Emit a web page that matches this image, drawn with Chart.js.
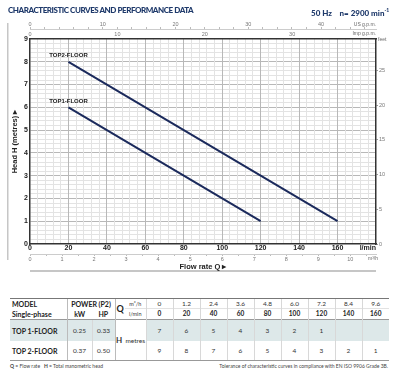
<!DOCTYPE html>
<html>
<head>
<meta charset="utf-8">
<script src="https://cdn.jsdelivr.net/npm/chart.js@4.4.0/dist/chart.umd.min.js"></script>
<style>
  html, body { margin: 0; padding: 0; background: #fff; }
  #wrap { position: relative; width: 400px; height: 376px; overflow: hidden; font-family: Lato, 'Open Sans', sans-serif; }
  #chart { position: absolute; left: 0; top: 0; }
  .head { position: absolute; top: 5px; font-weight: 900; font-size: 8px; color: #1f3a6b; white-space: nowrap; line-height: 10px; }
  #perf { position: absolute; left: 10px; top: 298px; border-collapse: collapse; table-layout: fixed; width: 379px; color: #333; }
  #perf td { padding: 0; text-align: center; font-size: 6.5px; line-height: 8px; border-left: 1px solid #d8d8d8; }
  #perf td.b { font-weight: bold; color: #222; }
  #perf td.l { text-align: left; padding-left: 2px; border-left: none; font-weight: bold; font-size: 7px; color: #222; }
  #perf tr.r1 td { height: 9px; border-top: 1px solid #777; }
  #perf tr.r2 td { height: 10px; }
  #perf tr.r2 td.v, #perf tr.r2 td.u { border-top: 1px solid #e2e2e2; }
  #perf tr.r3 td { height: 21px; border-top: 1px solid #999; }
  #perf tr.r3 td.s { background: #dde8e9; }
  #perf tr.r4 td { height: 19px; border-bottom: 1px solid #999; }
  #perf td.k { border-left: 1px solid #bbb; }
  .foot { position: absolute; top: 363px; font-size: 5px; color: #444; white-space: nowrap; }
</style>
</head>
<body>
<div id="wrap">
  <canvas id="chart" width="400" height="285"></canvas>
  <div class="head" style="left:8px;letter-spacing:-0.45px">CHARACTERISTIC CURVES AND PERFORMANCE DATA</div>
  <div class="head" style="left:311px">50 Hz&nbsp;&nbsp;&nbsp; n= 2900 min<sup style="font-size:5px">-1</sup></div>
  <table id="perf"></table>
  <div class="foot" style="left:10px"><b>Q</b> = Flow rate&nbsp;&nbsp; <b>H</b> = Total manometric head</div>
  <div class="foot" style="right:12px">Tolerance of characteristic curves in compliance with EN ISO 9906 Grade 3B.</div>
</div>
<script>
// performance table (also the points of the curves)
const flowLmin = [0, 20, 40, 60, 80, 100, 120, 140, 160];
const flowM3h = ['0', '1.2', '2.4', '3.6', '4.8', '6.0', '7.2', '8.4', '9.6'];
const headTop1 = [7, 6, 5, 4, 3, 2, 1, null, null];
const headTop2 = [9, 8, 7, 6, 5, 4, 3, 2, 1];
const models = ['TOP 1-FLOOR', 'TOP 2-FLOOR'];
const powerKw = ['0.25', '0.37'];
const powerHp = ['0.33', '0.50'];
const curveNames = ['TOP1-FLOOR', 'TOP2-FLOOR'];
const curveStart = 20; // the drawn curves begin at 20 l/min

// axis ranges and unit conversions
const X_MAX = 180;
const Y_MAX = 9;
const LMIN_PER_M3H = 1000 / 60;
const LMIN_PER_USGPM = 3.785411784;
const LMIN_PER_IMPGPM = 4.54609;
const M_PER_FT = 0.3048;

const LINE = '#1b2a5c';
const NUM_FONT = "'Liberation Sans', Arial, sans-serif";

// table
var rows = '<colgroup><col style="width:57px"><col style="width:25px"><col style="width:23px"><col style="width:10px"><col style="width:21px">' +
  flowLmin.map(() => '<col style="width:27px">').join('') + '</colgroup>';
rows += '<tr class="r1"><td class="l">MODEL</td><td class="b k" colspan="2" style="font-size:7px">POWER (P2)</td>' +
  '<td class="b k" rowspan="2" style="font-size:9px">Q</td><td class="u" style="border-left:none;font-size:5.5px">m³/h</td>' +
  flowM3h.map(v => '<td class="v">' + v + '</td>').join('') + '</tr>';
rows += '<tr class="r2"><td class="l">Single-phase</td><td class="b k" style="font-size:7px">kW</td><td class="b" style="font-size:7px;border-left:none">HP</td>' +
  '<td class="u" style="border-left:none;font-size:5.5px">l/min</td>' +
  flowLmin.map(v => '<td class="v b">' + v + '</td>').join('') + '</tr>';
[headTop1, headTop2].forEach(function (heads, i) {
  rows += '<tr class="r' + (i + 3) + '"><td class="l s">' + models[i] + '</td><td class="s k">' + powerKw[i] + '</td><td class="s">' + powerHp[i] + '</td>';
  if (i === 0) rows += '<td class="k" colspan="2" rowspan="2" style="border-bottom:1px solid #999"><b style="font-size:8px">H</b>&nbsp; metres</td>';
  rows += heads.map(h => '<td class="s v">' + (h == null ? '' : h) + '</td>').join('') + '</tr>';
});
document.getElementById('perf').innerHTML = rows;

// chart
const isMult = (v, m) => Math.abs(v / m - Math.round(v / m)) < 1e-6;

function gridColor(v, major, lo, hi) {
  if (Math.abs(v - lo) < 1e-6 || Math.abs(v - hi) < 1e-6) return 'rgba(0,0,0,0)';
  return isMult(v, major) ? '#b8b8b8' : '#e3e3e3';
}

function points(heads) {
  return flowLmin.map((q, i) => ({ x: q, y: heads[i] }))
    .filter(p => p.x >= curveStart && p.y != null);
}

const small = { size: 5.5, family: NUM_FONT };

const extras = {
  id: 'extras',
  beforeDraw(chart) {
    const { ctx, chartArea: a } = chart;
    ctx.save();
    ctx.fillStyle = '#c6c6c6';
    ctx.fillRect(7, 23, 1.5, 237);
    ctx.fillRect(a.left, 270, a.right - a.left, 2);
    ctx.restore();
  },
  afterDraw(chart) {
    const { ctx, chartArea: a } = chart;
    ctx.save();
    ctx.fillStyle = '#666';
    ctx.textBaseline = 'middle';
    ctx.font = '5px ' + NUM_FONT;
    ctx.textAlign = 'right';
    ctx.fillText('US g.p.m.', a.right, 25);
    ctx.fillText('Imp g.p.m.', a.right, 34);
    ctx.fillText('m³/h', a.right + 2, 259);
    ctx.textAlign = 'left';
    ctx.fillText('feet', a.right + 2, a.top + 1);
    ctx.fillStyle = '#222';
    ctx.textAlign = 'right';
    ctx.font = 'bold 7px ' + NUM_FONT;
    ctx.fillText('l/min', a.right, 248);

    // curve names at the start of each line
    ctx.font = "bold 6px 'Liberation Sans Narrow', 'Arial Narrow', " + NUM_FONT;
    ctx.textAlign = 'center';
    ctx.textBaseline = 'bottom';
    chart.data.datasets.forEach(function (ds) {
      const p = ds.data[0];
      const px = chart.scales.x.getPixelForValue(p.x);
      const py = chart.scales.y.getPixelForValue(p.y);
      ctx.fillText(ds.label, px, py - 3);
    });
    ctx.restore();
  }
};

new Chart(document.getElementById('chart'), {
  type: 'line',
  data: {
    datasets: [
      { label: curveNames[0], data: points(headTop1), borderColor: LINE, borderWidth: 2, pointRadius: 0, xAxisID: 'x', yAxisID: 'y' },
      { label: curveNames[1], data: points(headTop2), borderColor: LINE, borderWidth: 2, pointRadius: 0, xAxisID: 'x', yAxisID: 'y' }
    ]
  },
  options: {
    responsive: false,
    animation: false,
    layout: { padding: { top: 18, bottom: 13.5, left: 0, right: 0 } },
    plugins: { legend: { display: false }, tooltip: { enabled: false } },
    scales: {
      y: {
        type: 'linear', position: 'left', min: 0, max: Y_MAX,
        afterFit: s => { s.width = 30; },
        ticks: {
          stepSize: 0.2, autoSkip: false, padding: 2, color: '#222',
          font: { size: 7, weight: 'bold', family: NUM_FONT },
          callback: v => isMult(v, 1) ? v : ''
        },
        grid: { drawTicks: false, color: c => gridColor(c.tick.value, 1, 0, Y_MAX) },
        border: { color: '#333', width: 1.5 },
        title: {
          display: true, text: 'Head H (metres) ▸', color: '#222',
          font: { size: 7.5, weight: 'bold', family: NUM_FONT },
          padding: { top: 10.5, bottom: 0 }
        }
      },
      y2: {
        type: 'linear', position: 'right', min: 0, max: Y_MAX / M_PER_FT,
        afterFit: s => { s.width = 24; },
        ticks: { stepSize: 5, includeBounds: false, padding: 1, color: '#777', font: small },
        grid: { drawOnChartArea: false, tickLength: 2, color: '#999' },
        border: { color: '#333', width: 1.5 }
      },
      x: {
        type: 'linear', position: 'bottom', min: 0, max: X_MAX,
        afterFit: s => { s.height = 10; },
        ticks: {
          stepSize: 4, autoSkip: false, maxRotation: 0, padding: 0, color: '#222',
          font: { size: 7, weight: 'bold', family: NUM_FONT },
          callback: v => (isMult(v, 20) && v < X_MAX) ? v : ''
        },
        grid: { drawTicks: false, color: c => gridColor(c.tick.value, 20, 0, X_MAX) },
        border: { color: '#333', width: 1.5 }
      },
      x2: {
        type: 'linear', position: 'bottom', min: 0, max: X_MAX / LMIN_PER_M3H,
        afterFit: s => { s.height = 17.5; },
        ticks: {
          stepSize: 0.5, includeBounds: false, autoSkip: false, maxRotation: 0, padding: 0.5, color: '#777', font: small,
          callback: v => isMult(v, 1) && v < 10.5 ? v : ''
        },
        grid: { drawOnChartArea: false, tickLength: 2, color: '#bbb' },
        border: { color: '#ccc', width: 1 },
        title: {
          display: true, text: 'Flow rate Q ▸', color: '#222',
          font: { size: 7.5, weight: 'bold', family: NUM_FONT },
          padding: { top: 0, bottom: 0 }
        }
      },
      xImp: {
        type: 'linear', position: 'top', min: 0, max: X_MAX / LMIN_PER_IMPGPM,
        afterFit: s => { s.height = 10; },
        ticks: {
          stepSize: 2, includeBounds: false, autoSkip: false, maxRotation: 0, padding: 1, color: '#777', font: small,
          callback: v => isMult(v, 10) ? v : ''
        },
        grid: { drawOnChartArea: false, drawTicks: false },
        border: { color: '#333', width: 1.5 }
      },
      xUs: {
        type: 'linear', position: 'top', min: 0, max: X_MAX / LMIN_PER_USGPM,
        afterFit: s => { s.height = 11; },
        ticks: {
          stepSize: 2, includeBounds: false, autoSkip: false, maxRotation: 0, padding: -1, color: '#777', font: small,
          callback: v => isMult(v, 10) ? v : ''
        },
        grid: { drawOnChartArea: false, tickLength: 2, color: '#bbb' },
        border: { color: '#ccc', width: 1 }
      }
    }
  },
  plugins: [extras]
});
</script>
</body>
</html>
